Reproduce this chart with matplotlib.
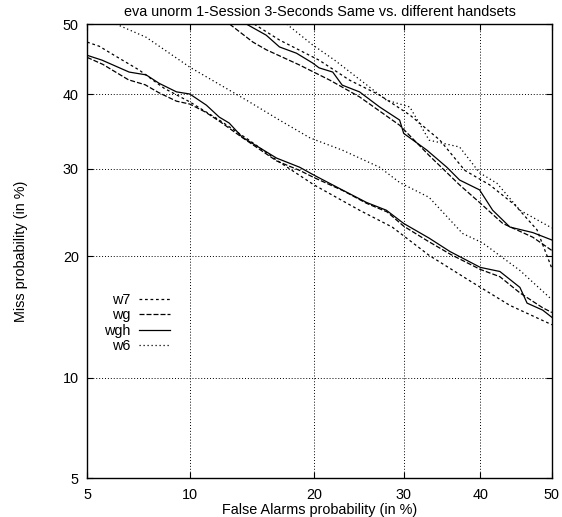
import math
from statistics import NormalDist

import numpy as np
import matplotlib
matplotlib.use("Agg")
import matplotlib.pyplot as plt

plt.rcParams["font.family"] = ["Liberation Sans", "DejaVu Sans"]

# DET curves, values in percent (false alarm, miss)
# same handset
w7_same_fa = [5, 5.46, 6.07, 7.2, 8.5, 10, 11.96, 14.2, 16.75, 20, 24.8, 28.6, 33.2, 38.6, 44.1, 50]
w7_same_miss = [47.4, 46.8, 45.5, 43.4, 40.8, 38.9, 36.4, 33.7, 30.85, 28.0, 25.0, 23.1, 20.1, 17.6, 15.4, 13.8]

wg_same_fa = [5, 5.6, 6.7, 7.5, 8.2, 9.2, 10, 11, 12, 13.7, 16.5, 18.6, 20, 23, 25.6, 28, 30, 33, 36, 40, 42.7, 45.5, 48.7, 50]
wg_same_miss = [45.2, 44.2, 42.0, 41.3, 40.2, 39.0, 38.6, 37.5, 36.2, 34.0, 31.0, 29.8, 28.9, 27.3, 25.8, 24.8, 23.2, 21.6, 20.2, 18.7, 18.0, 16.5, 15.2, 14.8]

wgh_same_fa = [5, 5.57, 6.73, 7.55, 8.23, 9.2, 10, 11.07, 11.96, 12.67, 13.66, 16.5, 18.6, 20, 22.9, 25.6, 27.9, 30, 33.2, 35.9, 40, 42.7, 45.5, 46.5, 48.7, 50]
wgh_same_miss = [45.5, 44.8, 43.1, 42.7, 41.5, 40.3, 40.0, 38.45, 36.8, 36.0, 34.1, 31.36, 30.2, 29.2, 27.4, 25.9, 25.0, 23.5, 21.9, 20.5, 18.9, 18.5, 17.0, 15.6, 15.0, 14.4]

w6_same_fa = [6.15, 7.55, 10, 13.98, 16.75, 19.6, 22.9, 27.1, 29.5, 33.2, 37.6, 40.3, 45.5, 50]
w6_same_miss = [50, 48.1, 43.8, 39.15, 36.4, 34.0, 32.4, 30.2, 28.3, 26.5, 22.4, 21.4, 18.6, 15.9]

# different handsets
w7_diff_fa = [14.6, 16.75, 20.5, 23.7, 27.1, 30.75, 34.6, 37.9, 41.3, 44.8, 47.9, 50]
w7_diff_miss = [50, 47.7, 44.8, 41.95, 39.85, 37.1, 33.7, 29.8, 28.0, 25.6, 22.8, 18.8]

wg_diff_fa = [12.7, 14.5, 15.6, 18.6, 21.6, 24.8, 29.5, 33.2, 37.2, 39.9, 43.1, 47.3, 50]
wg_diff_miss = [50, 47.4, 46.3, 44.1, 41.95, 39.6, 35.7, 31.7, 28.0, 25.9, 23.5, 22.0, 20.6]

wgh_diff_fa = [13.98, 15.6, 16.75, 18.3, 19.85, 20.5, 21.9, 22.9, 24.8, 27.1, 29.5, 30, 32.9, 35.5, 37.2, 39.9, 41.7, 44.1, 47.3, 50]
wgh_diff_miss = [50, 48.4, 46.7, 45.8, 44.4, 43.7, 43.1, 41.25, 40.3, 38.2, 36.4, 34.6, 32.4, 30.2, 28.6, 27.4, 25.0, 23.1, 22.5, 21.7]

w6_diff_fa = [17.4, 19.85, 22.1, 27.9, 30.75, 33.2, 37.2, 39.9, 42.3, 45.5, 50]
w6_diff_miss = [50, 47.0, 44.8, 39.15, 38.2, 33.7, 32.8, 29.5, 28.2, 25.0, 23.0]

ticks = [5, 10, 20, 30, 40, 50]

_nd = NormalDist()
_ppf = np.vectorize(lambda p: _nd.inv_cdf(min(max(p, 1e-9), 1 - 1e-9)), otypes=[float])
_erf = np.vectorize(math.erf, otypes=[float])


def probit(p):
    return _ppf(np.asarray(p, dtype=float) / 100.0)


def inv_probit(z):
    return 50.0 * (1.0 + _erf(np.asarray(z, dtype=float) / math.sqrt(2.0)))


fig = plt.figure(figsize=(5.62, 5.17), dpi=100)
ax = fig.add_axes([0.155, 0.0754, 0.827, 0.878])
ax.set_xscale("function", functions=(probit, inv_probit))
ax.set_yscale("function", functions=(probit, inv_probit))

lw = 0.9
styles = {
    "w7": dict(color="black", lw=lw, linestyle=(0, (2.2, 2.2))),
    "wg": dict(color="black", lw=lw, linestyle=(0, (4.0, 1.6))),
    "wgh": dict(color="black", lw=lw, linestyle="-"),
    "w6": dict(color="black", lw=lw, linestyle=(0, (1.0, 2.2))),
}

curves = [
    ("w7", w7_same_fa, w7_same_miss, w7_diff_fa, w7_diff_miss),
    ("wg", wg_same_fa, wg_same_miss, wg_diff_fa, wg_diff_miss),
    ("wgh", wgh_same_fa, wgh_same_miss, wgh_diff_fa, wgh_diff_miss),
    ("w6", w6_same_fa, w6_same_miss, w6_diff_fa, w6_diff_miss),
]
for name, sfa, smiss, dfa, dmiss in curves:
    ax.plot(sfa, smiss, label=name, **styles[name])
    ax.plot(dfa, dmiss, **styles[name])

fs = 10.4
ax.set_xlim(5, 50)
ax.set_ylim(5, 50)
ax.set_xticks(ticks)
ax.set_yticks(ticks)
ax.set_xticklabels([str(t) for t in ticks])
ax.set_yticklabels([str(t) for t in ticks])
ax.minorticks_off()
ax.tick_params(direction="in", top=True, right=True, length=4, width=0.8,
               labelsize=fs)
ax.tick_params(axis="x", pad=7)
ax.tick_params(axis="y", pad=6)
ax.grid(True, color="black", linestyle=(0, (1, 2)), linewidth=0.7)
for s in ax.spines.values():
    s.set_linewidth(1.0)

ax.set_title("eva unorm 1-Session 3-Seconds Same vs. different handsets",
             fontsize=fs, pad=6)
ax.set_xlabel("False Alarms probability (in %)", fontsize=fs, labelpad=1)
ax.set_ylabel("Miss probability (in %)", fontsize=fs, labelpad=25)

ax.legend(loc="upper left", bbox_to_anchor=(0.015, 0.43), frameon=False,
          markerfirst=False, handlelength=2.1, handletextpad=0.6,
          labelspacing=0.1, fontsize=fs, borderaxespad=0.3)

fig.savefig("out.png", dpi=100)
